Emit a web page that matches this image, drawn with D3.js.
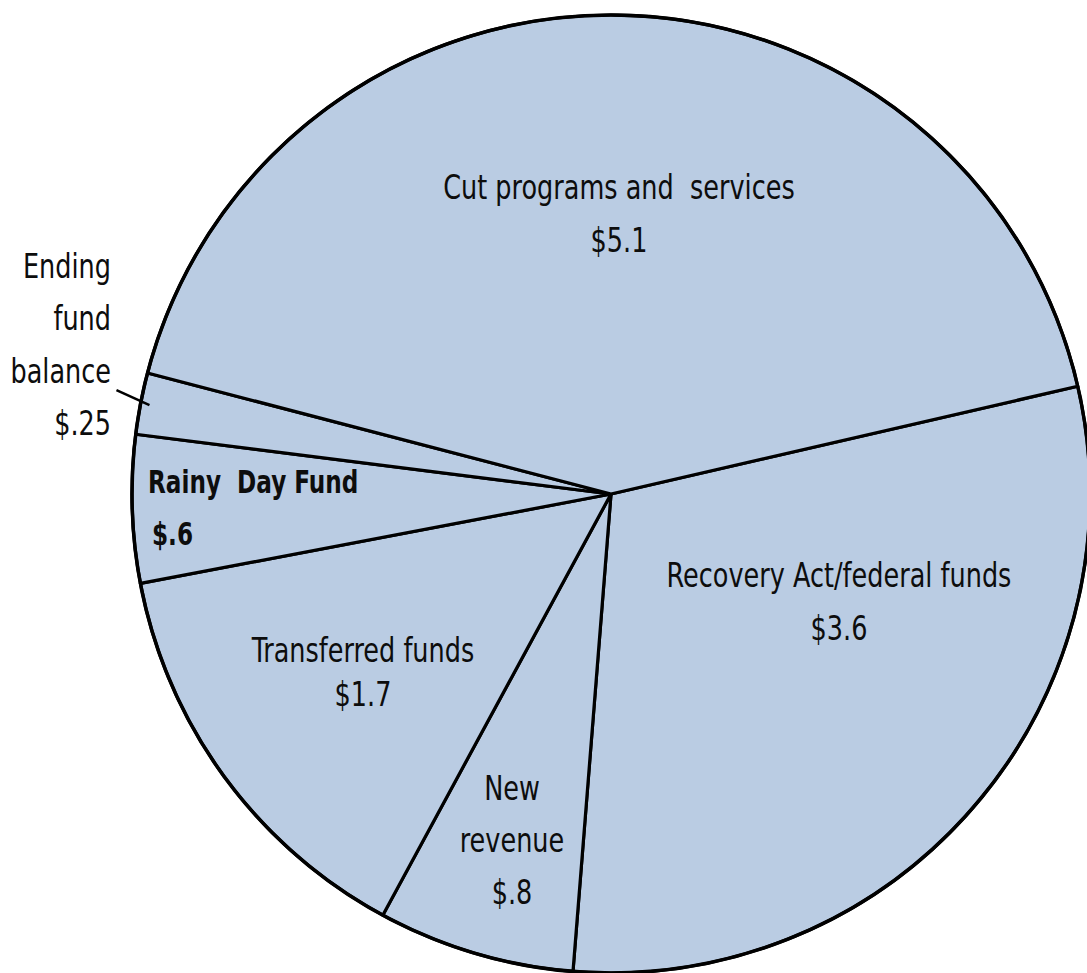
<!doctype html>
<html lang="en">
<head>
  <meta charset="utf-8">
  <title>Budget gap pie</title>
</head>
<style>
html, body, svg {
    margin: 0;
    padding: 0;
    border: 0;
    background: #fff;
}
text {
    font-family: "Liberation Sans Narrow", "DejaVu Sans Condensed", "Arial Narrow", sans-serif;
    fill: #0d0d0d;
}
</style>
<body>
  <svg></svg>
</body>
<script src="https://d3js.org/d3.v7.min.js"></script>
<script type="text/javascript">
    // slices, clockwise from the Recovery Act wedge
    var categories = ["Recovery Act/federal funds", "New revenue", "Transferred funds",
                      "Rainy Day Fund", "Ending fund balance", "Cut programs and services"];
    var values = [3.6, 0.8, 1.7, 0.6, 0.25, 5.1];
    var value_labels = ["$3.6", "$.8", "$1.7", "$.6", "$.25", "$5.1"];

    // how each label is broken into lines
    var label_lines = [
      ["Recovery Act/federal funds", "$3.6"],
      ["New", "revenue", "$.8"],
      ["Transferred funds", "$1.7"],
      ["Rainy  Day Fund", "$.6"],
      ["Ending", "fund", "balance", "$.25"],
      ["Cut programs and  services", "$5.1"]
    ];

    var w = 1087, h = 973;
    var cx = 611, cy = 494, radius = 479;
    var start = 77 * Math.PI / 180;
    var squeeze = 0.835;   // the original face is narrower than DejaVu Condensed

    // label layout (first baseline, line step, anchor, weight)
    var label_layout = [
      {x: 839, y: 587, step: 53, anchor: "middle", weight: "normal"},
      {x: 512, y: 800, step: 52, anchor: "middle", weight: "normal"},
      {x: 363, y: 662, step: 44, anchor: "middle", weight: "normal"},
      {x: 148, y: 493, step: 52, anchor: "start", weight: "bold"},
      {x: 111, y: 278, step: 52.5, anchor: "end", weight: "normal"},
      {x: 619, y: 199, step: 53, anchor: "middle", weight: "normal"}
    ];

    var svg = d3.select("svg")
      .attr("width", w)
      .attr("height", h);

    var pie = d3.pie()
      .sort(null)
      .startAngle(start)
      .endAngle(start + 2 * Math.PI);

    var arcs = pie(values);

    var arc = d3.arc()
      .innerRadius(0)
      .outerRadius(radius);

    var g = svg.append("g")
      .attr("transform", "translate(" + cx + "," + cy + ")");

    g.selectAll("path")
      .data(arcs)
      .enter()
      .append("path")
      .attr("d", arc)
      .attr("fill", "#bacce3")
      .attr("stroke", "#000")
      .attr("stroke-width", 3.2)
      .attr("stroke-linejoin", "round");

    g.append("circle")
      .attr("r", radius)
      .attr("fill", "none")
      .attr("stroke", "#000")
      .attr("stroke-width", 3.5);

    // leader line for the thin ending-balance wedge
    var ending = arcs[4];
    var mid = (ending.startAngle + ending.endAngle) / 2;
    var ex = Math.sin(mid) * (radius - 9), ey = -Math.cos(mid) * (radius - 9);
    g.append("line")
      .attr("x1", ex)
      .attr("y1", ey)
      .attr("x2", ex - 33)
      .attr("y2", ey - 15)
      .attr("stroke", "#000")
      .attr("stroke-width", 2.5);

    label_lines.forEach(function(lines, i) {
      var L = label_layout[i];
      var sx = i == 3 ? 0.805 : squeeze;
      var t = svg.append("text")
        .attr("transform", "translate(" + L.x + ",0) scale(" + sx + ",1)")
        .attr("text-anchor", L.anchor)
        .attr("font-size", i == 3 ? 32 : 34)
        .attr("font-weight", L.weight);
      lines.forEach(function(s, j) {
        t.append("tspan")
          .attr("x", (i == 3 && j == 1 ? 4 : 0) / sx)
          .attr("y", L.y + j * L.step)
          .attr("xml:space", "preserve")
          .style("white-space", "pre")
          .text(s);
      });
    });
</script>
</html>
